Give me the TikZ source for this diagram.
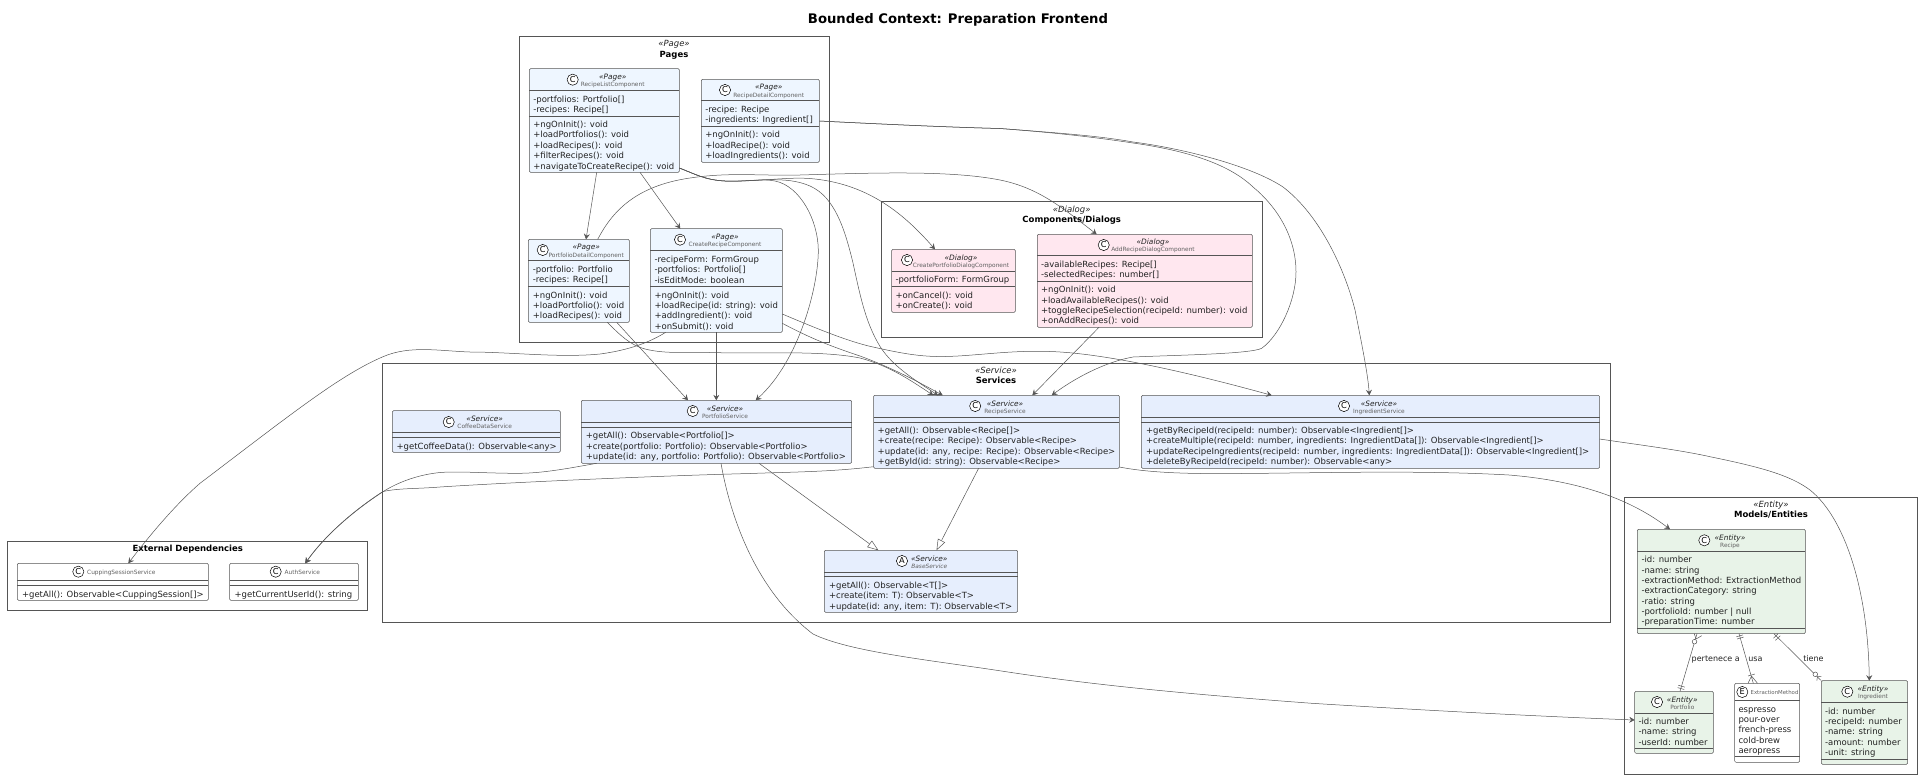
\documentclass[tikz,border=0pt]{standalone}
\usepackage{fontspec}
\setmainfont{DejaVu Sans}
\usetikzlibrary{arrows.meta}
\definecolor{lc}{HTML}{555555}
\definecolor{txt}{HTML}{222222}
\definecolor{pagef}{HTML}{EEF6FF}
\definecolor{dlgf}{HTML}{FFE7EF}
\definecolor{srvf}{HTML}{E6EEFD}
\definecolor{entf}{HTML}{E8F3E8}
\newcounter{tn}
\tikzset{
  framebox/.style={draw=lc,line width=.6pt,fill=none,inner sep=0,outer sep=0},
  cbox/.style={draw=lc,line width=.5pt,inner sep=0,outer sep=0,rounded corners=1.2pt},
  sepline/.style={draw=lc,line width=.5pt},
  memtxt/.style={anchor=base west,inner sep=0,outer sep=0,font=\fontsize{8.5}{10}\selectfont,text=txt},
  edgelbl/.style={anchor=base west,inner sep=0,outer sep=0,font=\fontsize{8}{10}\selectfont,text=txt},
  ster/.style={anchor=base,inner sep=0,font=\fontsize{7.4}{9}\selectfont\itshape,text=txt},
  cname/.style={anchor=base,inner sep=0,font=\fontsize{5.85}{7}\selectfont,text=black!62},
  fster/.style={anchor=base,inner sep=0,font=\fontsize{8.5}{10}\selectfont\itshape,text=txt},
  fname/.style={anchor=base,inner sep=0,font=\fontsize{8.5}{10}\selectfont\bfseries,text=black},
  spot/.style={draw=black,line width=.5pt,circle,fill=white,minimum size=11.2pt,inner sep=0,font=\fontsize{8.2}{9}\selectfont},
  edge/.style={draw=lc,line width=.5pt,-{Stealth[length=5.5pt,width=6pt,inset=2pt]}},
  inherit/.style={draw=lc,line width=.5pt,-{Triangle[open,length=11pt,width=8pt,fill=white]}},
  rel/.style={draw=lc,line width=.5pt},
  ring/.style={draw=lc,line width=.5pt,fill=white},
}
% name, x1,y1,x2,y2, fill
\newcommand\umlbox[6]{\node[cbox,fill=#6,minimum width={(#4-#2)*1pt},minimum height={(#5-#3)*1pt}] (#1) at ({(#2+#4)/2},{(#3+#5)/2}) {};}
\newcommand\umlframe[5]{\node[framebox,minimum width={(#4-#2)*1pt},minimum height={(#5-#3)*1pt}] (#1) at ({(#2+#4)/2},{(#3+#5)/2}) {};}
\newcommand\seps[2]{\draw[sepline] (#1.west |- 0,#2) -- (#1.east |- 0,#2);}
% spot: name, x, y, letter
\newcommand\spotc[4]{\node[spot] (#1) at (#2,#3) {#4};}
\newcommand\mem[3]{\stepcounter{tn}\node[memtxt] (txt\arabic{tn}) at (#1,#2+3.5) {#3};}
\newcommand\hdr[6]{\stepcounter{tn}\node[ster] (txt\arabic{tn}) at (#2,#3+2.8) {«#1»};\stepcounter{tn}\node[cname] (txt\arabic{tn}) at (#2,#4+2.3) {#6#5};}
\begin{document}
\begin{tikzpicture}[x=1pt,y=-1pt]
\useasboundingbox (0,0) rectangle (1920,777);
\node[anchor=base,inner sep=0,font=\fontsize{13.2}{16}\selectfont\bfseries] (title) at (958,23) {Bounded Context: Preparation Frontend};

% frames
\umlframe{fpages}{519.3}{36.3}{829.3}{342.3}
\node[fster] (fpages-s) at (674,46.5) {«Page»};
\node[fname] (fpages-n) at (674,57) {Pages};
\umlframe{fdlg}{881.3}{201.7}{1262.3}{337.3}
\node[fster] (fdlg-s) at (1071.7,212) {«Dialog»};
\node[fname] (fdlg-n) at (1071.7,222.5) {Components/Dialogs};
\umlframe{fsrv}{382.3}{363.7}{1609.8}{622.3}
\node[fster] (fsrv-s) at (996,373.4) {«Service»};
\node[fname] (fsrv-n) at (996,383.8) {Services};
\umlframe{fext}{7.3}{541.7}{367.7}{610.3}
\node[fname] (fext-n) at (187.7,551.5) {External Dependencies};
\umlframe{fmod}{1624.3}{497.7}{1917.3}{774.3}
\node[fster] (fmod-s) at (1771,507.4) {«Entity»};
\node[fname] (fmod-n) at (1771,517.8) {Models/Entities};

% RecipeListComponent
\umlbox{rl}{529.3}{68.7}{679.3}{172.3}{pagef}
\seps{rl}{90.3}\seps{rl}{116.3}
\spotc{rl-c}{572.7}{79.7}{C}
\hdr{Page}{612.7}{77}{84.3}{RecipeListComponent}{}
\mem{533.3}{98.7}{-portfolios: Portfolio[]}
\mem{533.3}{109}{-recipes: Recipe[]}
\mem{533.3}{124}{+ngOnInit(): void}
\mem{533.3}{134.3}{+loadPortfolios(): void}
\mem{533.3}{144.7}{+loadRecipes(): void}
\mem{533.3}{155}{+filterRecipes(): void}
\mem{533.3}{165.5}{+navigateToCreateRecipe(): void}

% RecipeDetailComponent
\umlbox{rd}{701.3}{79.3}{819.3}{162.3}{pagef}
\seps{rd}{100.3}\seps{rd}{126.7}
\spotc{rd-c}{725}{90}{C}
\hdr{Page}{768.7}{87}{94.7}{RecipeDetailComponent}{}
\mem{705.3}{108.7}{-recipe: Recipe}
\mem{705.3}{119}{-ingredients: Ingredient[]}
\mem{705.3}{134.3}{+ngOnInit(): void}
\mem{705.3}{144.7}{+loadRecipe(): void}
\mem{705.3}{155}{+loadIngredients(): void}

% PortfolioDetailComponent
\umlbox{pd}{528.3}{239.3}{629.3}{322.3}{pagef}
\seps{pd}{260.3}\seps{pd}{286.7}
\spotc{pd-c}{542.7}{250}{C}
\hdr{Page}{586.3}{247}{254.7}{PortfolioDetailComponent}{}
\mem{532.8}{269}{-portfolio: Portfolio}
\mem{532.8}{279.3}{-recipes: Recipe[]}
\mem{532.8}{294.7}{+ngOnInit(): void}
\mem{532.8}{305}{+loadPortfolio(): void}
\mem{532.8}{315.3}{+loadRecipes(): void}

% CreateRecipeComponent
\umlbox{cr}{650.3}{228.7}{782.3}{332.3}{pagef}
\seps{cr}{250.3}\seps{cr}{286.7}
\spotc{cr-c}{680}{239.7}{C}
\hdr{Page}{725}{236.7}{244.3}{CreateRecipeComponent}{}
\mem{654.5}{259}{-recipeForm: FormGroup}
\mem{654.5}{269.3}{-portfolios: Portfolio[]}
\mem{654.5}{279.6}{-isEditMode: boolean}
\mem{654.5}{294.7}{+ngOnInit(): void}
\mem{654.5}{305}{+loadRecipe(id: string): void}
\mem{654.5}{315.3}{+addIngredient(): void}
\mem{654.5}{325.7}{+onSubmit(): void}

% CreatePortfolioDialogComponent
\umlbox{cpd}{891.7}{249.3}{1015.3}{312.3}{dlgf}
\seps{cpd}{271.3}\seps{cpd}{286.7}
\spotc{cpd-c}{907}{260}{C}
\hdr{Dialog}{961}{257.7}{265}{CreatePortfolioDialogComponent}{}
\mem{895.5}{279.3}{-portfolioForm: FormGroup}
\mem{895.5}{294.7}{+onCancel(): void}
\mem{895.5}{305}{+onCreate(): void}

% AddRecipeDialogComponent
\umlbox{ard}{1037.3}{234.3}{1252.3}{327.3}{dlgf}
\seps{ard}{255.3}\seps{ard}{281.3}
\spotc{ard-c}{1103.7}{245}{C}
\hdr{Dialog}{1153}{242}{249.3}{AddRecipeDialogComponent}{}
\mem{1041}{263.7}{-availableRecipes: Recipe[]}
\mem{1041}{274}{-selectedRecipes: number[]}
\mem{1041}{289.3}{+ngOnInit(): void}
\mem{1041}{299.7}{+loadAvailableRecipes(): void}
\mem{1041}{310}{+toggleRecipeSelection(recipeId: number): void}
\mem{1041}{320.3}{+onAddRecipes(): void}

% CoffeeDataService
\umlbox{cds}{392.3}{410.7}{560.3}{452.3}{srvf}
\seps{cds}{432.3}\seps{cds}{437.7}
\spotc{cds-c}{448.7}{422}{C}
\hdr{Service}{484.7}{419}{426.3}{CoffeeDataService}{}
\mem{396.5}{445.7}{+getCoffeeData(): Observable<any>}

% PortfolioService
\umlbox{ps}{581.3}{400.3}{851.7}{463.3}{srvf}
\seps{ps}{422.3}\seps{ps}{427.3}
\spotc{ps-c}{692.7}{411}{C}
\hdr{Service}{725}{408.7}{416}{PortfolioService}{}
\mem{585.8}{435.3}{+getAll(): Observable<Portfolio[]>}
\mem{585.8}{445.7}{+create(portfolio: Portfolio): Observable<Portfolio>}
\mem{585.8}{456}{+update(id: any, portfolio: Portfolio): Observable<Portfolio>}

% RecipeService
\umlbox{rs}{873.5}{395.3}{1119.4}{468.3}{srvf}
\seps{rs}{417}\seps{rs}{422.3}
\spotc{rs-c}{975.2}{406}{C}
\hdr{Service}{1005}{403.3}{411}{RecipeService}{}
\mem{877.7}{430}{+getAll(): Observable<Recipe[]>}
\mem{877.7}{440.3}{+create(recipe: Recipe): Observable<Recipe>}
\mem{877.7}{450.7}{+update(id: any, recipe: Recipe): Observable<Recipe>}
\mem{877.7}{461}{+getById(id: string): Observable<Recipe>}

% IngredientService
\umlbox{is}{1141.4}{395.3}{1599.6}{468.3}{srvf}
\seps{is}{417}\seps{is}{422.3}
\spotc{is-c}{1344}{406}{C}
\hdr{Service}{1379}{403.3}{411}{IngredientService}{}
\mem{1146}{430}{+getByRecipeId(recipeId: number): Observable<Ingredient[]>}
\mem{1146}{440.3}{+createMultiple(recipeId: number, ingredients: IngredientData[]): Observable<Ingredient[]>}
\mem{1146}{450.7}{+updateRecipeIngredients(recipeId: number, ingredients: IngredientData[]): Observable<Ingredient[]>}
\mem{1146}{461}{+deleteByRecipeId(recipeId: number): Observable<any>}

% BaseService
\umlbox{bs}{824.3}{550.3}{1017.7}{612.3}{srvf}
\seps{bs}{572}\seps{bs}{576.7}
\spotc{bs-c}{902}{561}{A}
\hdr{Service}{929.3}{558.3}{566}{BaseService}{\itshape}
\mem{829}{585}{+getAll(): Observable<T[]>}
\mem{829}{595.3}{+create(item: T): Observable<T>}
\mem{829}{605.7}{+update(id: any, item: T): Observable<T>}

% External
\umlbox{css}{17.3}{563.3}{208.3}{600.3}{white}
\seps{css}{580.7}\seps{css}{585}
\spotc{css-c}{78.3}{571.7}{C}
\node[cname] (css-n) at (121.3,574) {CuppingSessionService};
\mem{22}{593.7}{+getAll(): Observable<CuppingSession[]>}
\umlbox{aus}{229.7}{563.3}{358.3}{600.3}{white}
\seps{aus}{580.7}\seps{aus}{585}
\spotc{aus-c}{275.7}{571.7}{C}
\node[cname] (aus-n) at (302.3,574) {AuthService};
\mem{234.5}{593.7}{+getCurrentUserId(): string}

% Recipe
\umlbox{rcp}{1637.3}{529.3}{1805.3}{633.7}{entf}
\seps{rcp}{551.3}\seps{rcp}{628.3}
\spotc{rcp-c}{1704.3}{540.3}{C}
\hdr{Entity}{1730}{537.3}{545.3}{Recipe}{}
\mem{1641.5}{559.3}{-id: number}
\mem{1641.5}{569.7}{-name: string}
\mem{1641.5}{580}{-extractionMethod: ExtractionMethod}
\mem{1641.5}{590.3}{-extractionCategory: string}
\mem{1641.5}{600.7}{-ratio: string}
\mem{1641.5}{611}{-portfolioId: number | null}
\mem{1641.5}{621.3}{-preparationTime: number}

% Portfolio
\umlbox{pf}{1634.7}{691.3}{1713.3}{753.3}{entf}
\seps{pf}{713.3}\seps{pf}{748.3}
\spotc{pf-c}{1657}{702}{C}
\hdr{Entity}{1682.3}{699.3}{706.7}{Portfolio}{}
\mem{1638.5}{721}{-id: number}
\mem{1638.5}{731.3}{-name: string}
\mem{1638.5}{741.7}{-userId: number}

% ExtractionMethod
\umlbox{em}{1734.7}{683.3}{1799.7}{762.3}{white}
\seps{em}{700}\seps{em}{756.7}
\spotc{em-c}{1742.3}{692}{E}
\node[cname,font=\fontsize{5.4}{7}\selectfont] (em-n) at (1774.5,694.2) {ExtractionMethod};
\mem{1738.5}{708.7}{espresso}
\mem{1738.5}{719}{pour-over}
\mem{1738.5}{729.3}{french-press}
\mem{1738.5}{739.7}{cold-brew}
\mem{1738.5}{750}{aeropress}

% Ingredient
\umlbox{ing}{1821.3}{680.7}{1907.7}{764.3}{entf}
\seps{ing}{702.3}\seps{ing}{759.3}
\spotc{ing-c}{1847.3}{691.7}{C}
\hdr{Entity}{1873}{689}{696.3}{Ingredient}{}
\mem{1825}{710.7}{-id: number}
\mem{1825}{721}{-recipeId: number}
\mem{1825}{731.3}{-name: string}
\mem{1825}{741.7}{-amount: number}
\mem{1825}{752}{-unit: string}

% ---- connectors ----
\draw[edge] (rl.south -| 596.7,0) -- (pd.north -| 586,0);
\draw[edge] (rl.south -| 640,0) -- (cr.north -| 680.3,0);
\draw[edge] (rl.east |- 0,168) .. controls (695,174) and (705,180) .. (725,181) .. controls (760,182) and (790,176) .. (815,179) .. controls (870,185) and (905,215) .. (cpd.north -| 935,0);
\draw[edge] (rl.east |- 0,168) .. controls (695,174) and (705,180) .. (725,181) .. controls (755,182) and (785,175) .. (810,186) .. controls (835,197) and (845,230) .. (853,263) .. controls (860,295) and (865,320) .. (878,343) .. controls (890,365) and (915,380) .. (rs.north -| 938,0);
\draw[edge] (rl.east |- 0,168) .. controls (695,174) and (705,180) .. (725,181) .. controls (750,182) and (760,178) .. (775,181) .. controls (800,186) and (818,220) .. (818.3,250) .. controls (818.5,285) and (800,360) .. (ps.north -| 755.7,0);
\draw[edge] (pd.north -| 597.7,0) .. controls (612,212) and (635,186) .. (690,178) .. controls (730,172) and (760,176) .. (800,175) .. controls (870,173) and (950,170) .. (1000,180) .. controls (1040,188) and (1065,210) .. (ard.north -| 1096.7,0);
\draw[edge] (rd.east |- 0,121) .. controls (860,123) and (940,127) .. (1000,128.5) .. controls (1060,133) and (1100,138) .. (1133,143) .. controls (1190,151) and (1230,165) .. (1253,187) .. controls (1275,205) and (1296,235) .. (1296,272) .. controls (1296,300) and (1280,335) .. (1261.7,348.3) .. controls (1250,354) and (1180,355) .. (1133,357) .. controls (1105,362) and (1075,378) .. (rs.north -| 1051.7,0);
\draw[edge] (rd.east |- 0,121) .. controls (860,123) and (940,127) .. (1000,128.5) .. controls (1060,133) and (1100,136) .. (1133,142) .. controls (1180,148) and (1250,165) .. (1283,187) .. controls (1320,215) and (1345,270) .. (1355,310) .. controls (1362,345) and (1368,375) .. (is.north -| 1369.3,0);
\draw[edge] (pd.south -| 616.7,0) -- (ps.north -| 688,0);
\draw[edge] (pd.south -| 607.3,0) .. controls (620,335) and (630,345) .. (645,349) .. controls (665,354) and (685,352) .. (710,352.5) .. controls (760,354) and (820,350) .. (860,358) .. controls (890,366) and (910,380) .. (rs.north -| 933.3,0);
\draw[edge] (cr.east |- 0,323.3) .. controls (810,338) and (830,346) .. (860,356) .. controls (890,367) and (915,380) .. (rs.north -| 942.7,0);
\draw[edge] (cr.east |- 0,314) .. controls (820,330) and (850,342) .. (873,347) .. controls (900,353) and (920,357) .. (945,356.5) .. controls (975,356) and (1010,350) .. (1050,351.5) .. controls (1100,353) and (1180,370) .. (is.north -| 1271.7,0);
\draw[edge] (cr.south -| 665.7,0) .. controls (650,342) and (630,350) .. (600,354) .. controls (560,358) and (510,352) .. (470,352) .. controls (440,351) and (410,345) .. (383,356.7) .. controls (340,375) and (290,415) .. (200,483.3) .. controls (175,505) and (150,535) .. (css.north -| 128.3,0);
\draw[edge] (cr.south -| 716.3,0) -- (ps.north -| 716.3,0);
\draw[edge] (ard.south -| 1099,0) -- (rs.north -| 1032.3,0);
\draw[edge] (ps.south -| 596.7,0) .. controls (570,468) and (545,473) .. (520,473.3) .. controls (490,473.5) and (460,471) .. (440,472.5) .. controls (415,475) and (395,484) .. (383,491.7) .. controls (355,510) and (325,535) .. (aus.north -| 305.3,0);
\draw[edge] (rs.west |- 0,466.7) .. controls (830,472) and (790,472) .. (750,473.5) .. controls (650,476) and (500,483) .. (440,487) .. controls (415,489) and (400,488) .. (383,491.5) .. controls (357,508) and (327,533) .. (aus.north -| 305.3,0);
\draw[inherit] (ps.south -| 759,0) -- (bs.north -| 878.4,0);
\draw[inherit] (rs.south -| 978.6,0) -- (bs.north -| 936.5,0);
\draw[edge] (rs.east |- 0,467) .. controls (1150,473) and (1190,474) .. (1240,473.5) .. controls (1320,473) and (1420,470) .. (1509,475) .. controls (1570,480) and (1625,495) .. (rcp.north -| 1670,0);
\draw[edge] (is.east |- 0,439) .. controls (1640,445) and (1680,450) .. (1710,456.7) .. controls (1760,467) and (1790,475) .. (1810,490) .. controls (1845,518) and (1868,590) .. (ing.north -| 1869.3,0);
\draw[edge] (ps.south -| 721,0) .. controls (730,515) and (755,590) .. (813,634) .. controls (850,652) and (930,660) .. (1006,671.7) .. controls (1100,686) and (1200,695) .. (1312,703.3) .. controls (1420,710) and (1530,716) .. (pf.west |- 0,720);

% entity relations
\draw[rel] (rcp.south -| 1697,0) -- (pf.north -| 1680,0);
\draw[rel] (1696,639) -- (1694.3,633.7) (1696,639) -- (1701.7,635.7);
\draw[ring] (1694.5,641.7) circle (2.3pt);
\draw[rel] (1678.2,685.2) -- (1684.8,687.1) (1677.6,687.6) -- (1684.2,689.5);
\node[edgelbl] (lbl-p) at (1691.7,661.2) {pertenece a};

\draw[rel] (rcp.south -| 1739,0) -- (em.north -| 1753.3,0);
\draw[rel] (1736.3,636.8) -- (1743,634.9) (1737,639) -- (1743.6,637.1);
\draw[rel] (1751.5,676) -- (1748,683.3) (1751.5,676) -- (1757.5,683.3);
\draw[rel] (1748,676) -- (1754.8,674);
\node[edgelbl] (lbl-u) at (1748.3,661.2) {usa};

\draw[rel] (rcp.south -| 1774,0) -- (ing.west |- 0,680.7);
\draw[rel] (1773.3,638.3) -- (1778,633.7) (1775.4,640.4) -- (1780.2,635.7);
\draw[rel] (1817.5,676.6) -- (1821.3,676.4) (1817.5,676.6) -- (1816.8,680.7);
\draw[ring] (1815.3,674.3) circle (2.3pt);
\node[edgelbl] (lbl-t) at (1803.3,661.2) {tiene};
\end{tikzpicture}
\end{document}
